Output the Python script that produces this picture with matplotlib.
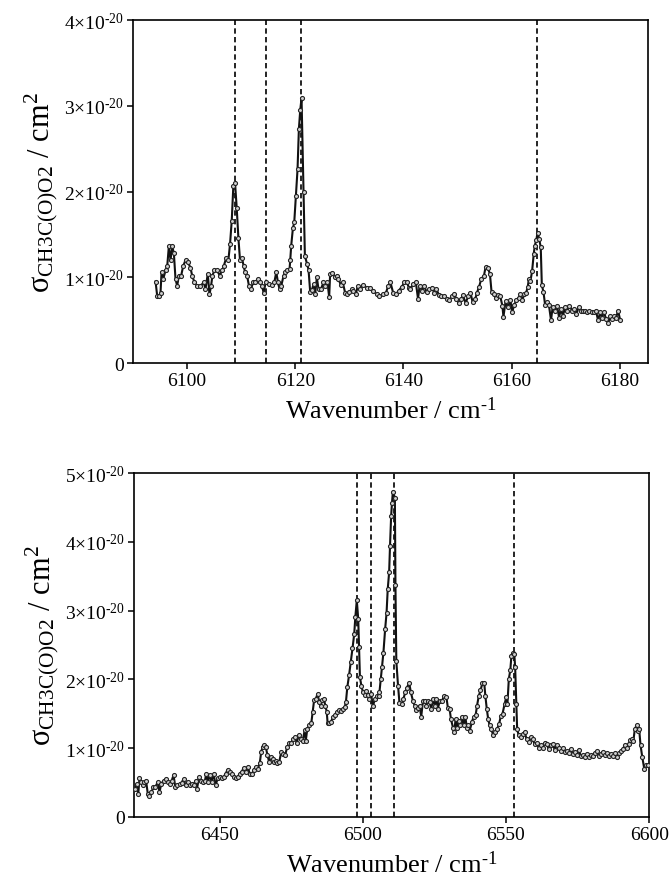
import numpy as np
import matplotlib
matplotlib.use("Agg")
import matplotlib.pyplot as plt

plt.rcParams['font.family'] = ['Liberation Serif', 'DejaVu Serif']
plt.rcParams['mathtext.fontset'] = 'custom'
plt.rcParams['mathtext.rm'] = 'Liberation Serif'
plt.rcParams['mathtext.it'] = 'Liberation Serif:italic'

# ---- top panel: 6090-6185 cm-1 (sigma in units of 1e-20 cm2)
top_wn = [6094.16, 6094.47, 6094.78, 6095.08, 6095.27, 6095.58, 6096.01, 6096.32, 6096.62, 6096.93,
          6097.24, 6097.55, 6097.85, 6098.16, 6098.47, 6098.90, 6099.27, 6099.70, 6100.13, 6100.62,
          6100.93, 6101.36, 6101.85, 6102.47, 6103.08, 6103.39, 6103.82, 6104.13, 6104.43, 6104.68,
          6105.05, 6105.54, 6106.03, 6106.46, 6106.77, 6107.20, 6107.63, 6107.94, 6108.25, 6108.55,
          6108.86, 6109.17, 6109.48, 6109.78, 6110.15, 6110.46, 6110.71, 6111.08, 6111.44, 6111.81,
          6112.18, 6112.61, 6113.10, 6113.53, 6113.84, 6114.15, 6114.52, 6115.07, 6115.69, 6116.12,
          6116.49, 6116.80, 6117.10, 6117.41, 6117.84, 6118.15, 6118.46, 6118.95, 6119.07, 6119.25,
          6119.56, 6119.81, 6120.12, 6120.42, 6120.67, 6120.92, 6121.16, 6121.53, 6121.78, 6122.15,
          6122.45, 6122.76, 6123.07, 6123.38, 6123.68, 6123.99, 6124.30, 6124.73, 6125.22, 6125.59,
          6125.96, 6126.27, 6126.45, 6126.88, 6127.37, 6127.68, 6127.99, 6128.42, 6128.79, 6129.22,
          6129.65, 6130.02, 6130.45, 6130.76, 6131.19, 6131.56, 6131.99, 6132.60, 6133.22, 6133.83,
          6134.45, 6135.06, 6135.55,
          6136.28, 6136.77, 6137.2, 6137.6, 6138.1, 6138.6, 6139.1, 6139.7, 6140.2, 6140.6,
          6141.0, 6141.3, 6141.8, 6142.3, 6142.7, 6143.0, 6143.5, 6143.8, 6144.3, 6144.8,
          6145.3, 6145.7, 6146.1, 6146.6, 6147.0, 6147.5, 6148.0, 6148.5, 6148.9, 6149.4,
          6149.8, 6150.2, 6150.7, 6151.0, 6151.5, 6152.0, 6152.4, 6152.8, 6153.3, 6153.6,
          6154.0, 6154.4, 6154.9, 6155.2, 6155.6, 6156.0, 6156.3, 6156.7, 6157.1, 6157.5,
          6157.9, 6158.3, 6158.5, 6158.9, 6159.3, 6159.8, 6160.1, 6160.5, 6160.9, 6161.3,
          6161.6, 6162.0, 6162.3, 6162.7, 6163.0, 6163.2, 6163.5, 6163.8, 6164.1, 6164.3,
          6164.6, 6164.8, 6165.1, 6165.4, 6165.6, 6165.9, 6166.2, 6166.5, 6166.9, 6167.3,
          6167.6, 6168.0, 6168.4, 6168.8, 6169.1, 6169.5, 6169.9, 6170.3, 6170.7, 6171.2,
          6171.6, 6172.0, 6172.4, 6172.8, 6173.2, 6173.6, 6174.0, 6174.4, 6174.8, 6175.3,
          6175.6, 6176.0, 6176.4, 6176.7, 6177.1, 6177.5, 6177.9, 6178.2, 6178.6, 6179.0,
          6179.3, 6179.7, 6180.1]
top_sig = [.95, .78, .78, .82, 1.06, .98, 1.08, 1.13, 1.36, 1.2,
           1.36, 1.28, .98, .9, 1.02, 1.02, 1.13, 1.2, 1.18, 1.11,
           1.02, .94, .9, .9, .94, .86, 1.04, .80, .9, 1.02,
           1.08, 1.08, 1.02, 1.08, 1.13, 1.22, 1.2, 1.39, 1.66, 2.07,
           2.1, 1.81, 1.46, 1.2, 1.22, 1.13, 1.06, 1.02, .9, .86,
           .94, .94, .98, .94, .9, .82, .94, .92, .91, .94,
           1.06, .94, .86, .9, 1.02, 1.06, 1.08, 1.1, 1.2, 1.37,
           1.57, 1.64, 1.95, 2.26, 2.73, 2.95, 3.09, 1.99, 1.25, 1.16,
           1.09, .83, .85, .92, .80, 1.0, .86, .86, .94, .9,
           .94, .77, 1.04, 1.05, 1.0, 1.02, .98, .91, .94, .82,
           .8, .83, .86, .84, .8, .9, .86, .91, .88, .88,
           .84, .80, .78,
           .80, .82, .90, .94, .82, .80, .84, .89, .94, .95,
           .88, .86, .92, .94, .75, .90, .84, .90, .83, .86,
           .88, .82, .86, .79, .78, .78, .75, .73, .78, .80,
           .75, .70, .75, .79, .70, .78, .82, .71, .75, .82,
           .89, .98, 1.02, 1.12, 1.11, 1.04, .83, .80, .76, .79,
           .78, .67, .54, .72, .65, .73, .59, .68, .73, .76,
           .80, .73, .80, .82, .89, .98, .96, 1.07, 1.27, 1.37,
           1.44, 1.52, 1.45, 1.35, .91, .83, .68, .71, .68, .50,
           .65, .61, .67, .53, .63, .55, .65, .61, .67, .61,
           .63, .57, .65, .61, .61, .61, .59, .61, .59, .59,
           .61, .50, .59, .53, .59, .51, .47, .55, .51, .55,
           .52, .61, .50]
top_lines = [6108.8, 6114.6, 6121.1, 6164.7]

# ---- bottom panel: 6420-6600 cm-1
bot_wn = [6420.5, 6421.05, 6421.6, 6422.0, 6422.6, 6423.2, 6423.7, 6424.3, 6424.9, 6425.5,
          6426.2, 6426.9, 6427.6, 6428.4, 6429.0, 6429.6, 6430.4, 6431.1, 6431.8, 6432.5,
          6433.2, 6433.9, 6434.5, 6435.2, 6436.0, 6436.7, 6437.4, 6438.1, 6438.8, 6439.5,
          6440.2, 6440.9, 6441.6, 6442.1, 6442.8, 6443.5, 6444.2, 6444.9, 6445.3, 6445.9,
          6446.5, 6447.2, 6447.9, 6448.6, 6449.3, 6450.0, 6450.7, 6451.4, 6452.1, 6452.8,
          6453.5, 6454.2, 6454.9, 6455.6, 6456.3, 6457.0, 6457.7, 6458.4, 6459.1, 6459.8,
          6460.5, 6461.2, 6461.9, 6462.6, 6463.3, 6464.0, 6464.5, 6465.0, 6465.5, 6466.1,
          6466.7, 6467.3, 6467.9, 6468.5, 6469.0, 6469.6, 6470.2, 6470.8, 6471.5, 6472.2,
          6472.9, 6473.6, 6474.3, 6475.0, 6475.7, 6476.4, 6476.9, 6477.6, 6478.3, 6479.0,
          6479.7, 6480.1, 6480.6, 6481.3, 6482.0, 6482.5, 6483.0, 6483.6, 6484.2, 6484.8,
          6485.3, 6485.8, 6486.4, 6486.9, 6487.4, 6487.7, 6488.3, 6488.9, 6489.5, 6490.2,
          6490.9, 6491.6, 6492.3, 6493.0, 6493.7, 6494.1, 6494.6, 6495.2, 6495.8, 6496.4,
          6497.0, 6497.4, 6497.9, 6498.4, 6498.7, 6499.0, 6499.5, 6500.0, 6500.6, 6501.1,
          6501.7, 6502.3, 6502.9, 6503.5,
          6504.3, 6504.9, 6505.5, 6505.8, 6506.3, 6506.7, 6507.2, 6507.8, 6508.3, 6508.7,
          6509.2, 6509.5, 6509.9, 6510.2, 6510.5, 6511.2, 6511.4, 6511.7, 6512.3, 6512.8,
          6513.6, 6514.2, 6514.8, 6515.4, 6516.2, 6516.8, 6517.5, 6518.1, 6518.6, 6519.2,
          6519.8, 6520.4, 6521.0, 6521.6, 6522.2, 6522.7, 6523.3, 6523.9, 6524.5, 6525.1,
          6525.7, 6526.2, 6526.8, 6527.6, 6528.5, 6529.2, 6529.7, 6530.3, 6530.8, 6531.5,
          6531.9, 6532.4, 6532.9, 6533.5, 6534.1, 6534.6, 6535.2, 6535.8, 6536.4,
          6536.6, 6537.3, 6538.1, 6538.7, 6539.4, 6539.9, 6540.5, 6541.1, 6541.8, 6542.4,
          6542.8, 6543.3, 6543.8, 6544.3, 6544.9, 6545.5, 6546.2, 6546.9, 6547.6, 6548.2,
          6548.8, 6549.5, 6550.1, 6550.5, 6551.0, 6551.5, 6551.9, 6552.4, 6552.9, 6553.2,
          6553.6, 6553.9, 6554.4, 6555.1, 6555.8, 6556.5, 6557.2, 6557.9, 6558.6, 6559.3,
          6560.0, 6560.7, 6561.4, 6562.1, 6562.8, 6563.5, 6564.2, 6564.9, 6565.6, 6566.3,
          6567.0, 6567.7, 6568.4, 6569.1, 6569.8, 6570.5, 6571.2, 6571.9, 6572.6, 6573.3,
          6574.0, 6574.7, 6575.4, 6576.1, 6576.8, 6577.5, 6578.2, 6578.9, 6579.6, 6580.3,
          6581.0, 6581.7, 6582.4, 6583.1, 6583.8, 6584.5, 6585.2, 6585.9, 6586.6, 6587.3,
          6588.0, 6588.7, 6589.4, 6590.1, 6590.8, 6591.5, 6592.2, 6592.8, 6593.4, 6594.0,
          6594.5, 6595.0, 6595.6, 6596.1, 6596.5, 6597.0, 6597.6, 6598.3, 6598.9, 6599.5]
bot_sig = [.41, .48, .34, .56, .51, .46, .51, .53, .34, .31,
           .36, .44, .44, .51, .36, .48, .53, .55, .51, .48,
           .52, .61, .44, .46, .48, .50, .55, .46, .51, .46,
           .48, .46, .53, .41, .58, .53, .51, .53, .63, .51,
           .61, .51, .63, .46, .56, .58, .57, .58, .63, .69,
           .65, .63, .58, .56, .58, .63, .66, .71, .65, .73,
           .63, .62, .68, .73, .70, .78, .94, 1.02, 1.04, 1.02,
           .90, .80, .87, .85, .80, .82, .79, .80, .94, .92,
           .90, 1.02, 1.07, 1.08, 1.14, 1.16, 1.07, 1.19, 1.14, 1.11,
           1.26, 1.11, 1.28, 1.33, 1.36, 1.53, 1.70, 1.72, 1.79, 1.67,
           1.61, 1.70, 1.72, 1.62, 1.53, 1.37, 1.37, 1.38, 1.45, 1.48,
           1.53, 1.55, 1.54, 1.57, 1.60, 1.67, 1.89, 2.06, 2.25, 2.45,
           2.66, 2.91, 3.15, 2.88, 2.47, 2.03, 1.91, 1.82, 1.78, 1.83,
           1.77, 1.72, 1.79, 1.61,
           1.72, 1.76, 1.76, 1.81, 2.01, 2.18, 2.39, 2.73, 2.97, 3.31,
           3.56, 3.94, 4.38, 4.57, 4.73, 4.64, 3.37, 2.27, 1.91, 1.66,
           1.64, 1.72, 1.81, 1.88, 1.95, 1.81, 1.69, 1.62, 1.56, 1.58,
           1.62, 1.46, 1.68, 1.69, 1.62, 1.69, 1.67, 1.57, 1.72, 1.62,
           1.72, 1.57, 1.68, 1.69, 1.76, 1.74, 1.59, 1.57, 1.42, 1.30,
           1.23, 1.42, 1.30, 1.40, 1.34, 1.45, 1.33, 1.45, 1.29,
           1.33, 1.25, 1.38, 1.46, 1.48, 1.62, 1.76, 1.84, 1.95, 1.95,
           1.76, 1.57, 1.42, 1.33, 1.28, 1.19, 1.23, 1.28, 1.35, 1.47,
           1.50, 1.64, 1.74, 1.64, 2.01, 2.13, 2.34, 2.38, 2.37, 2.18,
           1.64, 1.28, 1.19, 1.17, 1.21, 1.24, 1.13, 1.09, 1.16, 1.13,
           1.06, 1.08, 1.01, 1.04, 1.00, 1.08, 1.06, .99, 1.05, 1.06,
           .98, 1.05, 1.01, .96, 1.00, .94, .96, .93, .99, .92,
           .94, .90, .98, .89, .90, .87, .92, .87, .90, .88,
           .93, .96, .89, .92, .95, .90, .93, .89, .92, .89,
           .93, .87, .93, .96, .99, 1.04, 1.01, 1.06, 1.12, 1.14,
           1.11, 1.28, 1.33, 1.25, 1.28, 1.04, .87, .70, .75, .75]
bot_lines = [6497.8, 6502.8, 6510.8, 6552.8]

assert len(top_wn) == len(top_sig), (len(top_wn), len(top_sig))
assert len(bot_wn) == len(bot_sig), (len(bot_wn), len(bot_sig))

ylab = r'σ$_{\mathrm{CH3C(O)O2}}$ / cm$^{2}$'
xlab = r'Wavenumber / cm$^{\mathrm{‐1}}$'


def sci(n):
    if n == 0:
        return '0'
    return r'$%d{\times}10^{\mathrm{‐20}}$' % n


def panel(ax, wn, sig, lines, xlim, xt, ymax):
    ax.plot(wn, np.array(sig) * 1e-20, '-o', color='#111111', lw=1.5, ms=2.9,
            mfc='#d0d0d0', mec='#222222', mew=0.8, zorder=3)
    for x in lines:
        ax.axvline(x, color='k', lw=1.2, ls=(0, (3.2, 2.0)), zorder=2)
    ax.set_xlim(*xlim)
    ax.set_ylim(0, ymax * 1e-20)
    ax.set_xticks(xt)
    yt = list(range(ymax + 1))
    ax.set_yticks([v * 1e-20 for v in yt])
    ax.set_yticklabels([sci(v) for v in yt])
    ax.tick_params(labelsize=14, length=4.5, width=1.1, direction='out', pad=2)
    for s in ax.spines.values():
        s.set_linewidth(1.2)
    ax.set_xlabel(xlab, fontsize=19, labelpad=5)
    ax.set_ylabel(ylab, fontsize=22, labelpad=3)


fig = plt.figure(figsize=(6.72, 8.87), dpi=100)
ax1 = fig.add_axes([0.198, 0.5896, 0.766, 0.3867])
ax2 = fig.add_axes([0.199, 0.0778, 0.767, 0.3878])

panel(ax1, top_wn, top_sig, top_lines, (6090, 6185.2), [6100, 6120, 6140, 6160, 6180], 4)
panel(ax2, bot_wn, bot_sig, bot_lines, (6420, 6600), [6450, 6500, 6550, 6600], 5)

fig.savefig('out.png', dpi=100)
